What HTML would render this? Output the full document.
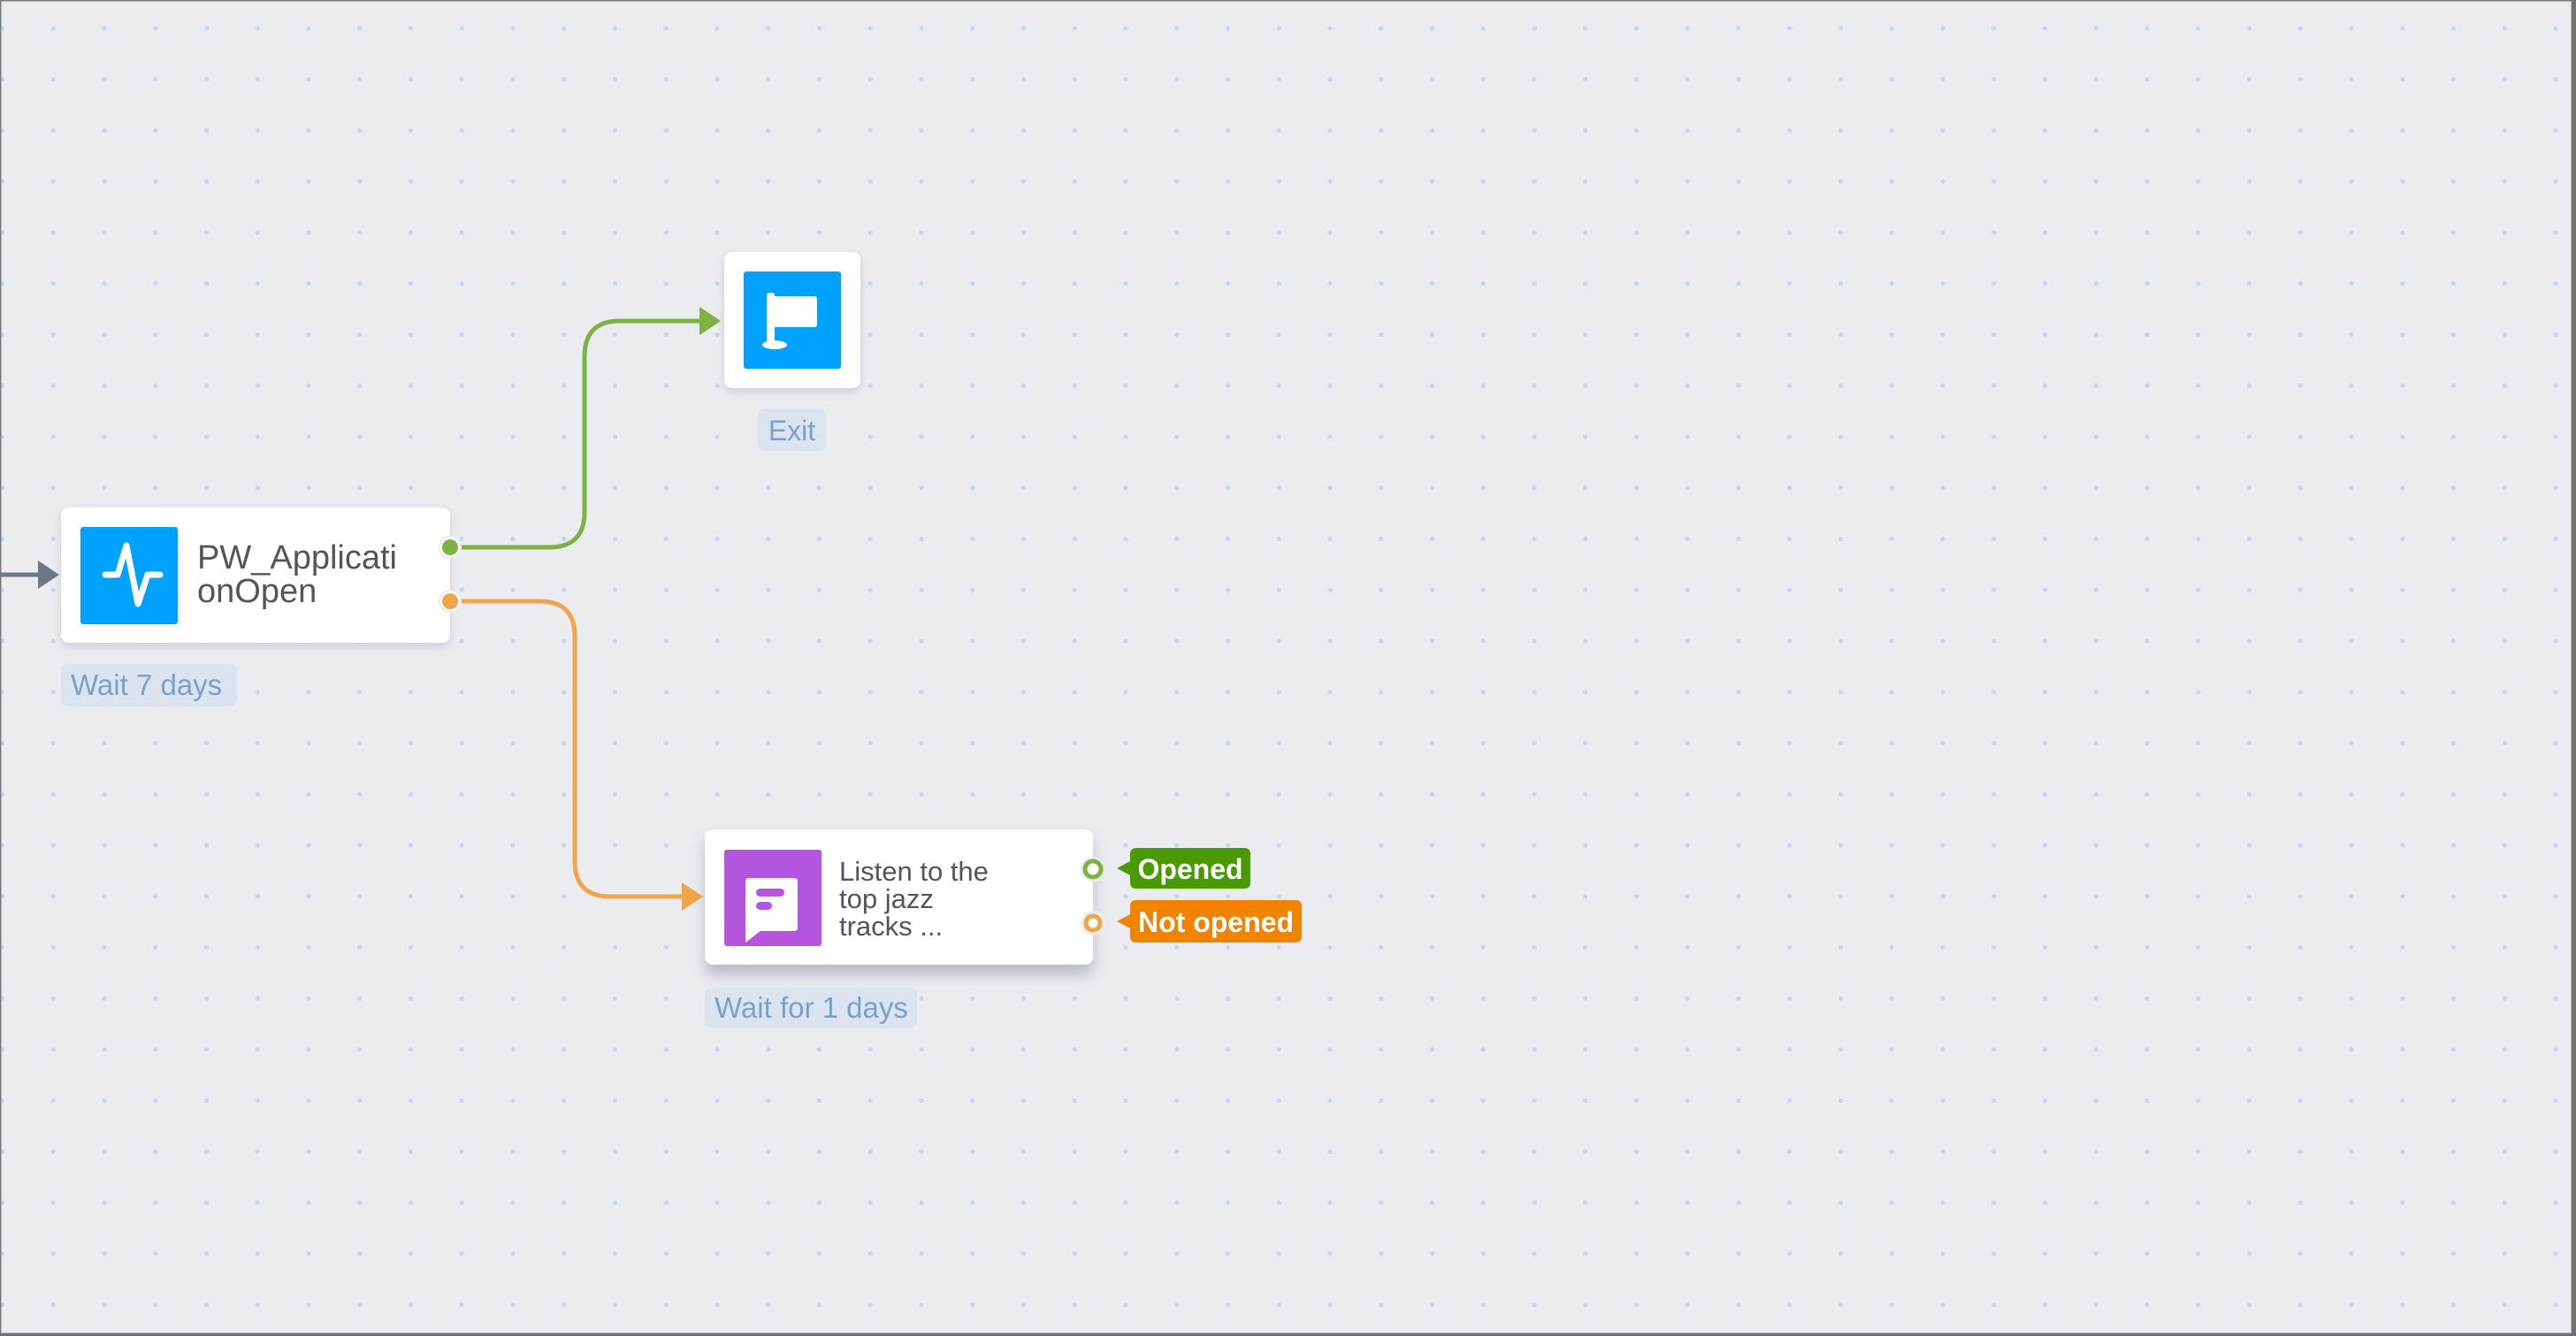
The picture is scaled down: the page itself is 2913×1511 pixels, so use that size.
<!DOCTYPE html>
<html><head><meta charset="utf-8"><style>
html,body{margin:0;padding:0;width:2913px;height:1511px;overflow:hidden;background:#eaecf0}
svg{display:block}
text{font-family:"Liberation Sans",sans-serif}
</style></head><body>
<svg width="2913" height="1511" viewBox="0 0 2913 1511" xmlns="http://www.w3.org/2000/svg">
<defs>
<pattern id="dots" x="2.5" y="32" width="57.75" height="57.75" patternUnits="userSpaceOnUse">
<circle cx="0" cy="0" r="2.6" fill="#c6d6ec"/><circle cx="57.75" cy="0" r="2.6" fill="#c6d6ec"/><circle cx="0" cy="57.75" r="2.6" fill="#c6d6ec"/><circle cx="57.75" cy="57.75" r="2.6" fill="#c6d6ec"/>
</pattern>
<filter id="sh" x="-20%" y="-20%" width="140%" height="150%"><feDropShadow dx="0" dy="4" stdDeviation="5" flood-color="#8a93a6" flood-opacity="0.35"/></filter>
<filter id="sh2" x="-20%" y="-20%" width="140%" height="160%"><feDropShadow dx="0" dy="12" stdDeviation="8" flood-color="#7a8396" flood-opacity="0.45"/></filter>
</defs>
<rect width="2913" height="1511" fill="#eaecf0"/>
<rect width="2913" height="1511" fill="url(#dots)"/>
<rect x="0.5" y="0.5" width="2908" height="1508" fill="none" stroke="#7a7a7a" stroke-width="2"/>
<rect x="2909" y="0" width="4" height="1511" fill="#6f6f6f"/>
<rect x="0" y="1509" width="2913" height="2" fill="#6f6f6f"/>

<!-- incoming arrow -->
<line x1="0" y1="650" x2="48" y2="650" stroke="#6f7787" stroke-width="5"/>
<polygon points="43,634 67,650 43,666" fill="#6f7787"/>

<!-- connectors -->
<path d="M515 619 H621 Q661 619 661 579 V403 Q661 363 701 363 H795" fill="none" stroke="#7cb342" stroke-width="5"/>
<polygon points="791,347 815,363 791,379" fill="#7cb342"/>
<path d="M515 680 H610 Q650 680 650 720 V974 Q650 1014 690 1014 H775" fill="none" stroke="#f2a449" stroke-width="5"/>
<polygon points="771,998 795,1014 771,1030" fill="#f2a449"/>

<!-- node 1 -->
<rect x="69" y="574" width="440" height="153" rx="9" fill="#fff" filter="url(#sh)"/>
<rect x="91" y="596" width="110" height="110" rx="3" fill="#00a2ff"/>
<polyline points="119,650 133,650 143,617 156,683 167,650 181,650" fill="none" stroke="#fff" stroke-width="7" stroke-linejoin="round" stroke-linecap="round"/>
<text x="223" y="643" font-size="38" fill="#555">PW_Applicati</text>
<text x="223" y="681" font-size="38" fill="#555">onOpen</text>
<circle cx="509" cy="619" r="13" fill="#eaecf0"/><circle cx="509" cy="619" r="10" fill="#7cb342" stroke="#fff" stroke-width="2"/>
<circle cx="509" cy="680" r="13" fill="#eaecf0"/><circle cx="509" cy="680" r="10" fill="#f2a449" stroke="#fff" stroke-width="2"/>
<rect x="69" y="751" width="199" height="48" rx="8" fill="#dbe3ee"/>
<text x="80" y="786" font-size="33" fill="#7aa0cc">Wait 7 days</text>

<!-- exit node -->
<rect x="819" y="285" width="154" height="154" rx="9" fill="#fff" filter="url(#sh)"/>
<rect x="841" y="307" width="110" height="110" rx="3" fill="#00a2ff"/>
<rect x="867" y="331" width="9" height="58" rx="3" fill="#fff"/>
<rect x="870" y="335" width="54" height="35" rx="3" fill="#fff"/>
<ellipse cx="876" cy="390" rx="14" ry="5" fill="#fff"/>
<rect x="857" y="462" width="77" height="48" rx="8" fill="#dbe3ee"/>
<text x="895.5" y="498" font-size="32" fill="#7aa0cc" text-anchor="middle">Exit</text>

<!-- message node -->
<rect x="797" y="938" width="439" height="153" rx="9" fill="#fff" filter="url(#sh2)"/>
<rect x="819" y="961" width="110" height="109" rx="3" fill="#b455e0"/>
<path d="M847 993 H898 Q902 993 902 997 V1049 Q902 1053 898 1053 H860 L843 1066 V997 Q843 993 847 993Z" fill="#fff"/>
<rect x="855" y="1005" width="32" height="9" rx="4.5" fill="#b455e0"/>
<rect x="855" y="1020" width="18" height="9" rx="4.5" fill="#b455e0"/>
<text x="949" y="996" font-size="31" fill="#555">Listen to the</text>
<text x="949" y="1027" font-size="31" fill="#555">top jazz</text>
<text x="949" y="1058" font-size="31" fill="#555">tracks ...</text>
<circle cx="1236" cy="983" r="14" fill="#eaecf0"/><circle cx="1236" cy="983" r="9" fill="#fff" stroke="#7cb342" stroke-width="5"/>
<circle cx="1236" cy="1044" r="14" fill="#eaecf0"/><circle cx="1236" cy="1044" r="8" fill="#fff" stroke="#f2a449" stroke-width="5"/>
<path d="M1285 959 H1407 Q1414 959 1414 966 V998 Q1414 1005 1407 1005 H1285 Q1278 1005 1278 998 V990 L1263 982 L1278 974 V966 Q1278 959 1285 959Z" fill="#4a9a06"/>
<text x="1346" y="994" font-size="32" font-weight="bold" fill="#fff" text-anchor="middle">Opened</text>
<path d="M1285 1018 H1465 Q1472 1018 1472 1025 V1059 Q1472 1066 1465 1066 H1285 Q1278 1066 1278 1059 V1050 L1263 1042 L1278 1034 V1025 Q1278 1018 1285 1018Z" fill="#f08300"/>
<text x="1375" y="1054" font-size="32" font-weight="bold" fill="#fff" text-anchor="middle">Not opened</text>
<rect x="797" y="1117" width="240" height="46" rx="8" fill="#dbe3ee"/>
<text x="808" y="1151" font-size="33" fill="#7aa0cc">Wait for 1 days</text>
</svg>
</body></html>
